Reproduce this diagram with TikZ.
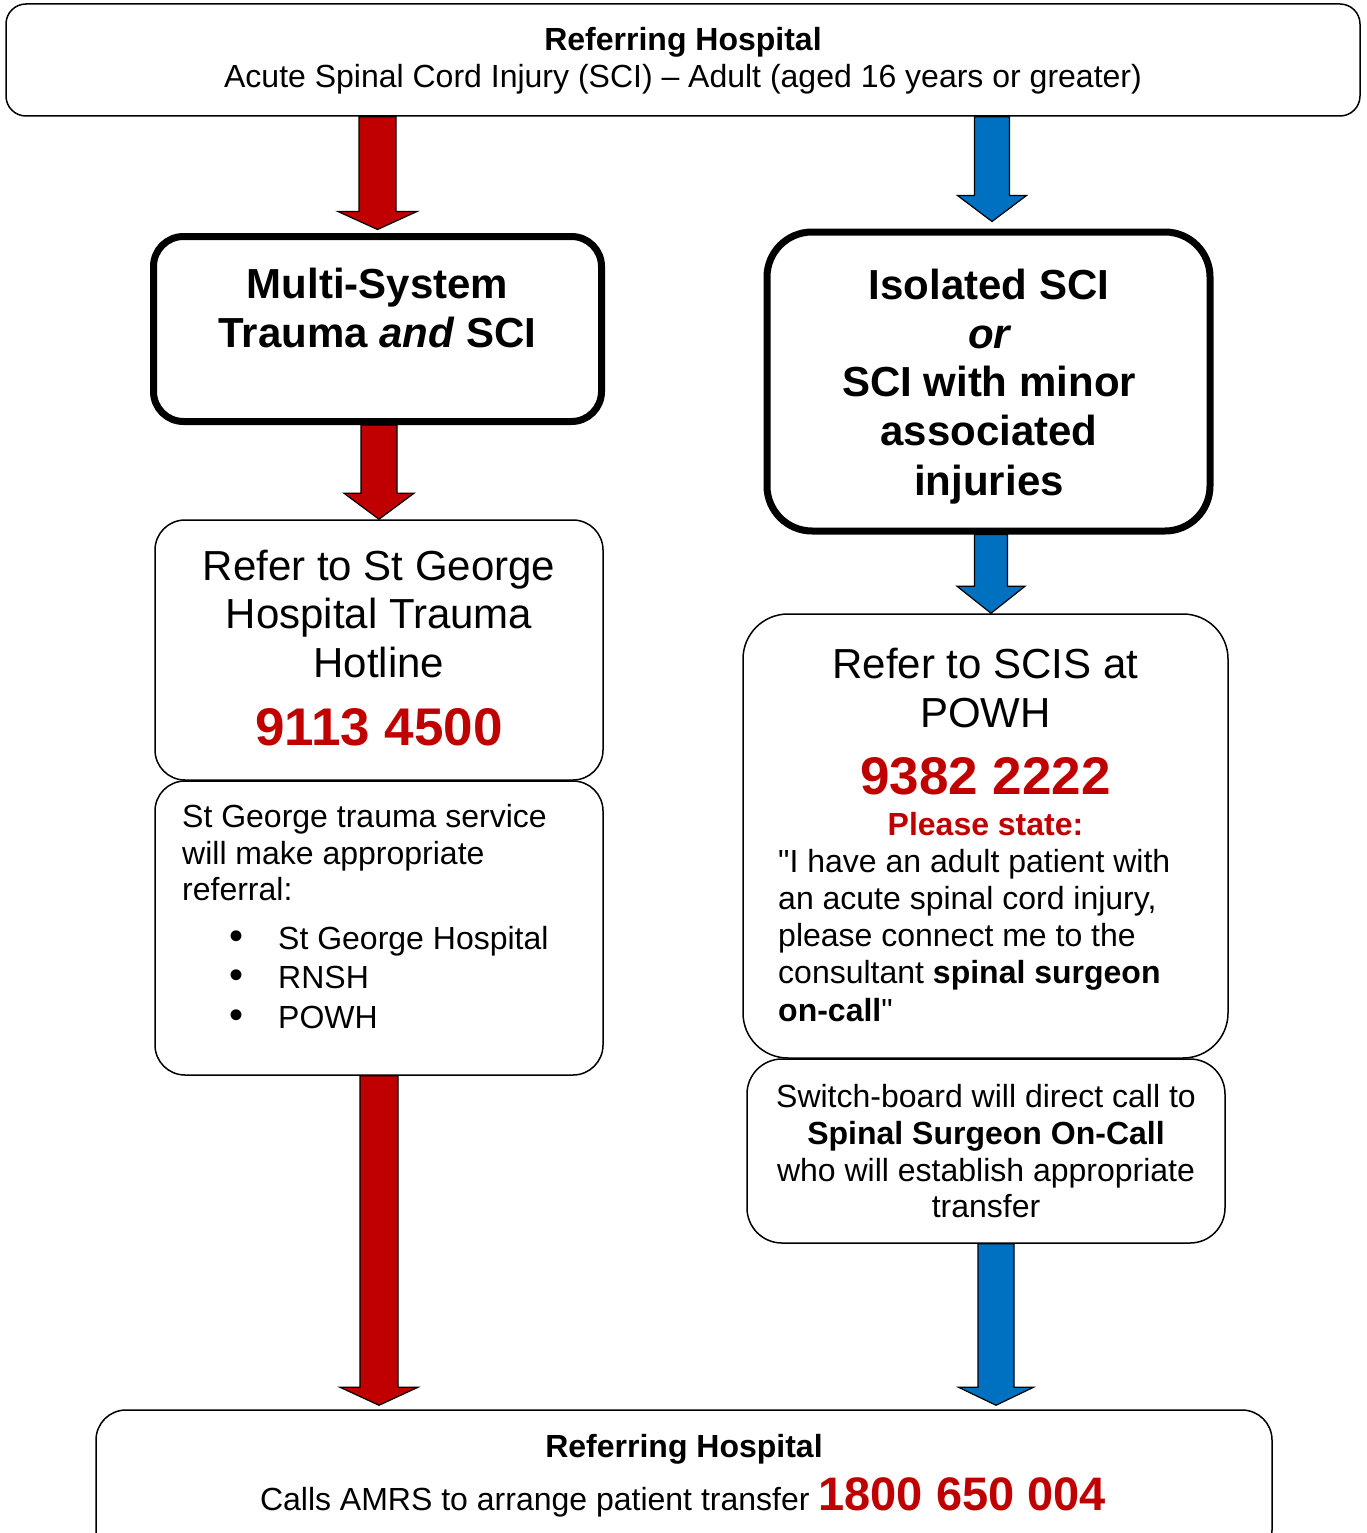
\documentclass[tikz,border=0pt]{standalone}
\usepackage{fontspec}
\setmainfont{Liberation Sans}[Ligatures=TeXOff]
\usetikzlibrary{calc,backgrounds}
\definecolor{nred}{HTML}{C00000}
\definecolor{nblue}{HTML}{0070C0}
\newcommand{\fsz}[2]{\fontsize{#1}{#2}\selectfont}
% #1 colour, #2 x reference, #3 start, #4 tip, #5 shaft half width, #6 head half width, #7 head length
\newcommand{\blockarrow}[7]{%
  \draw[fill=#1, line width=1.2pt, line join=miter] let \p1=(#2), \p2=(#3), \p3=(#4) in
  (\x1-#5pt,\y2) -- (\x1+#5pt,\y2) -- (\x1+#5pt,\y3+#7pt) -- (\x1+#6pt,\y3+#7pt) --
  (\x1,\y3) -- (\x1-#6pt,\y3+#7pt) -- (\x1-#5pt,\y3+#7pt) -- cycle;}
\begin{document}
\begin{tikzpicture}[x=1pt,y=-1pt,
  thinbox/.style={draw, fill=white, line width=1.5pt, inner sep=0pt},
  thickbox/.style={draw, fill=white, line width=7pt, inner sep=0pt},
  txt/.style={inner sep=0pt, anchor=base},
  ltxt/.style={inner sep=0pt, anchor=base west}]
\useasboundingbox (0,0) rectangle (1366,1533);

% ---------- boxes ----------
\node[thinbox, rounded corners=20pt, minimum width=1354pt, minimum height=112pt] (top) at (683,60) {};
\node[thickbox, rounded corners=30pt, minimum width=448pt, minimum height=185pt] (multi) at (377.5,329) {};
\node[thinbox, rounded corners=30pt, minimum width=448pt, minimum height=260pt] (refer1) at (379,650) {};
\node[thinbox, rounded corners=30pt, minimum width=448pt, minimum height=294pt] (box2) at (379,928) {};
\node[thickbox, rounded corners=45pt, minimum width=443pt, minimum height=299pt] (iso) at (988.5,381.5) {};
\node[thinbox, rounded corners=45pt, minimum width=485pt, minimum height=444pt] (refer2) at (985.5,836) {};
\node[thinbox, rounded corners=35pt, minimum width=478pt, minimum height=184pt] (sw) at (986,1151) {};
\node[thinbox, rounded corners=30pt, minimum width=1176pt, minimum height=150pt] (bottom) at (684,1485) {};

% ---------- block arrows ----------
\begin{scope}[on background layer]
\blockarrow{nred}{multi.north}{top.south}{[yshift=3.5pt]multi.north}{18.5}{39.5}{18}
\blockarrow{nred}{refer1.north}{multi.south}{refer1.north}{18}{35}{26}
\blockarrow{nred}{box2.south}{box2.south}{[yshift=4pt]bottom.north}{19}{39}{18}
\blockarrow{nblue}{[xshift=3.5pt]iso.north}{top.south}{[yshift=7pt]iso.north}{17.5}{34.5}{26}
\blockarrow{nblue}{[xshift=5.5pt]refer2.north}{iso.south}{refer2.north}{16.5}{34}{27}
\blockarrow{nblue}{[xshift=10pt]sw.south}{sw.south}{[yshift=4pt]bottom.north}{18}{37.5}{18}
\end{scope}

% ---------- top box text ----------
\node[txt] (t1) at (683,51) {\fsz{32}{37}\bfseries Referring Hospital};
\node[txt] (t2) at (683,87.5) {\fsz{32}{37}Acute Spinal Cord Injury (SCI) – Adult (aged 16 years or greater)};

% ---------- multi-system ----------
\node[txt] (m1) at (377.5,298) {\fsz{42}{48}\bfseries Multi-System};
\node[txt] (m2) at (377.5,347) {\fsz{42}{48}\bfseries Trauma \textit{and} SCI};

% ---------- refer St George ----------
\node[txt] (r1) at (379,580) {\fsz{42}{48}Refer to St George};
\node[txt] (r2) at (379,628) {\fsz{42}{48}Hospital Trauma};
\node[txt] (r3) at (379,677) {\fsz{42}{48}Hotline};
\node[txt, text=nred] (r4) at (379,745) {\fsz{53}{60}\bfseries 9113 4500};

% ---------- St George referral ----------
\node[ltxt] (s1) at (182,827.5) {\fsz{32}{37}St George trauma service};
\node[ltxt] (s2) at (182,864.5) {\fsz{32}{37}will make appropriate};
\node[ltxt] (s3) at (182,900.5) {\fsz{32}{37}referral:};
\node[ltxt] (l1) at (229,949.5) {\fsz{32}{37}\makebox[49pt][l]{\fsz{40}{40}•}St George Hospital};
\node[ltxt] (l2) at (229,988.5) {\fsz{32}{37}\makebox[49pt][l]{\fsz{40}{40}•}RNSH};
\node[ltxt] (l3) at (229,1028) {\fsz{32}{37}\makebox[49pt][l]{\fsz{40}{40}•}POWH};

% ---------- isolated SCI ----------
\node[txt] (i1) at (989,299) {\fsz{42}{48}\bfseries Isolated SCI};
\node[txt] (i2) at (989,348) {\fsz{42}{48}\bfseries\itshape or};
\node[txt] (i3) at (989,396) {\fsz{42}{48}\bfseries SCI with minor};
\node[txt] (i4) at (989,445) {\fsz{42}{48}\bfseries associated};
\node[txt] (i5) at (989,495) {\fsz{42}{48}\bfseries injuries};

% ---------- refer SCIS ----------
\node[txt] (p1) at (985.5,678) {\fsz{42}{48}Refer to SCIS at};
\node[txt] (p2) at (985.5,727) {\fsz{42}{48}POWH};
\node[txt, text=nred] (p3) at (985.5,794) {\fsz{53}{60}\bfseries 9382 2222};
\node[txt, text=nred] (p4) at (985.5,835.5) {\fsz{32}{37}\bfseries Please state:};
\node[ltxt] (q1) at (778,872.5) {\fsz{32}{37}"I have an adult patient with};
\node[ltxt] (q2) at (778,909.5) {\fsz{32}{37}an acute spinal cord injury,};
\node[ltxt] (q3) at (778,946.5) {\fsz{32}{37}please connect me to the};
\node[ltxt] (q4) at (778,983.5) {\fsz{32}{37}consultant \textbf{spinal surgeon}};
\node[ltxt] (q5) at (778,1021.5) {\fsz{32}{37}\textbf{on-call}"};

% ---------- switch-board ----------
\node[txt] (w1) at (986,1107.5) {\fsz{32}{37}Switch-board will direct call to};
\node[txt] (w2) at (986,1144.5) {\fsz{32}{37}\bfseries Spinal Surgeon On-Call};
\node[txt] (w3) at (986,1181.5) {\fsz{32}{37}who will establish appropriate};
\node[txt] (w4) at (986,1217.5) {\fsz{32}{37}transfer};

% ---------- bottom box ----------
\node[txt] (b1) at (684,1457) {\fsz{32}{37}\bfseries Referring Hospital};
\node[txt] (b2) at (683,1510) {\fsz{32}{37}Calls AMRS to arrange patient transfer {\color{nred}\fsz{47}{52}\bfseries 1800 650 004}};
\end{tikzpicture}
\end{document}
